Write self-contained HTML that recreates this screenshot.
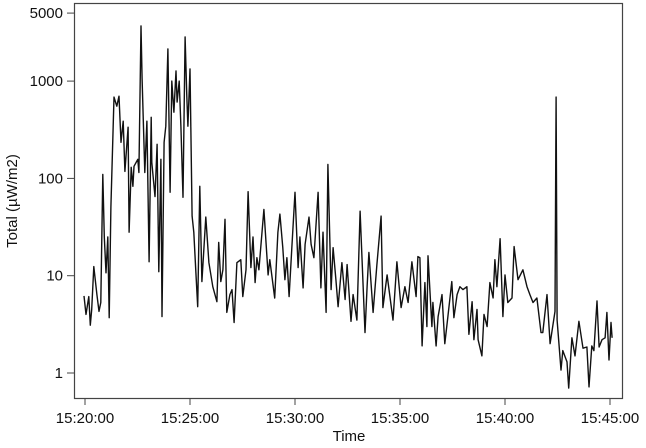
<!DOCTYPE html>
<html><head><meta charset="utf-8"><style>
html,body{margin:0;padding:0;background:#fff;}
svg text{font-family:"Liberation Sans",Arial,sans-serif;font-size:15px;fill:#111;}
</style></head><body>
<svg id="chart" width="646" height="443" viewBox="0 0 646 443" xmlns="http://www.w3.org/2000/svg">
<rect x="74.5" y="3.5" width="548" height="395" fill="none" stroke="#444" stroke-width="1.2"/>
<g id="xaxis"></g>
<g id="yaxis"></g>
<text x="349" y="441" text-anchor="middle">Time</text>
<text transform="translate(17,201) rotate(-90)" text-anchor="middle">Total (µW/m2)</text>
<path id="series" fill="none" stroke="#111" stroke-width="1.4" stroke-linejoin="round"/>
</svg>
<script>
const times=[-3,3,11,15,19,25,34,40,45,51,55,60,65,69,74,83,91,97,103,109,114,123,126,132,137,140,151,154,160,163,171,177,183,189,191,200,206,211,217,220,226,231,237,243,248,254,260,263,269,274,280,286,291,294,300,306,311,317,322,328,334,345,354,365,377,382,388,394,400,405,414,420,426,434,445,451,460,466,474,480,486,491,497,511,523,528,542,551,557,565,571,577,583,591,600,609,614,623,629,640,646,654,666,674,680,689,694,703,709,717,723,734,743,749,760,766,777,786,800,806,811,823,834,846,851,863,880,891,903,914,923,934,946,951,957,963,971,977,980,991,994,1003,1009,1020,1028,1037,1048,1054,1063,1071,1080,1091,1097,1106,1111,1120,1123,1134,1140,1149,1157,1166,1171,1177,1186,1194,1200,1208,1220,1226,1237,1251,1263,1271,1280,1291,1303,1308,1320,1329,1343,1345,1346,1349,1360,1365,1377,1382,1391,1400,1411,1423,1434,1440,1448,1454,1463,1469,1477,1486,1491,1497,1503,1506];
const totals=[6.2,4.0,6.1,3.1,4.5,12.4,6.4,4.3,5.3,110,25,10.7,25,3.7,51,684,552,700,235,387,118,336,28,130,83,133,157,115,3690,1050,115,387,13.9,425,146,65,224,11,157,3.8,235,344,2140,72,1000,479,1270,608,1000,344,64,2840,700,344,1330,41,28,10.7,4.8,83,8.7,40,13.6,7.7,5.4,22,8.7,11.5,38,4.2,6.4,7.2,3.3,13.6,14.6,6.1,11.5,73,12.1,25,8.5,15.3,11.5,48,10.2,14.6,5.9,28,43,19.4,9.1,15.3,6.1,19.9,72,12.1,25,7.5,21,40,21,15.3,72,7.5,28,4.2,139,7.2,19.4,9.1,4.8,13.6,5.7,13,3.4,6.4,3.5,46,2.6,7.7,17.3,4.2,13,41,4.7,10.2,3.5,13.9,4.7,7.7,5.3,13.9,6.1,15.7,15.3,1.9,8.5,3.0,16,3.0,5.3,1.9,3.8,6.4,2.0,3.8,8.7,3.7,6.4,7.7,7.2,7.7,2.5,5.4,2.2,4.5,2.2,1.5,4.0,3.0,8.5,5.9,14.6,7.7,24,3.8,10.2,5.3,5.9,19.9,9.1,11.5,7.7,6.4,5.3,5.9,2.6,2.6,6.4,2.0,4.3,190,684,3.5,1.07,1.7,1.3,0.70,2.3,1.5,3.4,1.8,1.85,0.72,1.9,1.7,5.5,1.85,2.2,2.3,4.2,1.36,3.3,2.3];
const xTickSeconds=[0,300,600,900,1200,1500];
const xTickLabels=["15:20:00","15:25:00","15:30:00","15:35:00","15:40:00","15:45:00"];
const yTickValues=[1,10,100,1000,5000];
const yTickLabels=["1","10","100","1000","5000"];

const NS="http://www.w3.org/2000/svg";
function xScale(t){return 85+t*525/1500;}
function yScale(v){return 373-97.3*Math.log10(v);}

const xa=document.getElementById('xaxis');
xTickSeconds.forEach((t,i)=>{
  const x=xScale(t);
  const l=document.createElementNS(NS,'line');
  l.setAttribute('x1',x);l.setAttribute('x2',x);l.setAttribute('y1',399);l.setAttribute('y2',405);
  l.setAttribute('stroke','#444');
  
  
  xa.appendChild(l);
  const tx=document.createElementNS(NS,'text');
  tx.setAttribute('x',x);tx.setAttribute('y',423);tx.setAttribute('text-anchor','middle');
  tx.textContent=xTickLabels[i];
  
  
  xa.appendChild(tx);
});
const ya=document.getElementById('yaxis');
yTickValues.forEach((v,i)=>{
  const y=yScale(v);
  const l=document.createElementNS(NS,'line');
  l.setAttribute('x1',67);l.setAttribute('x2',74);l.setAttribute('y1',y);l.setAttribute('y2',y);
  l.setAttribute('stroke','#444');
  
  
  ya.appendChild(l);
  const tx=document.createElementNS(NS,'text');
  tx.setAttribute('x',63);tx.setAttribute('y',y+5);tx.setAttribute('text-anchor','end');
  tx.textContent=yTickLabels[i];
  
  
  ya.appendChild(tx);
});
let d='';
times.forEach((t,i)=>{d+=(i?'L':'M')+xScale(t).toFixed(1)+','+yScale(totals[i]).toFixed(1);});
document.getElementById('series').setAttribute('d',d);
</script>
</body></html>
